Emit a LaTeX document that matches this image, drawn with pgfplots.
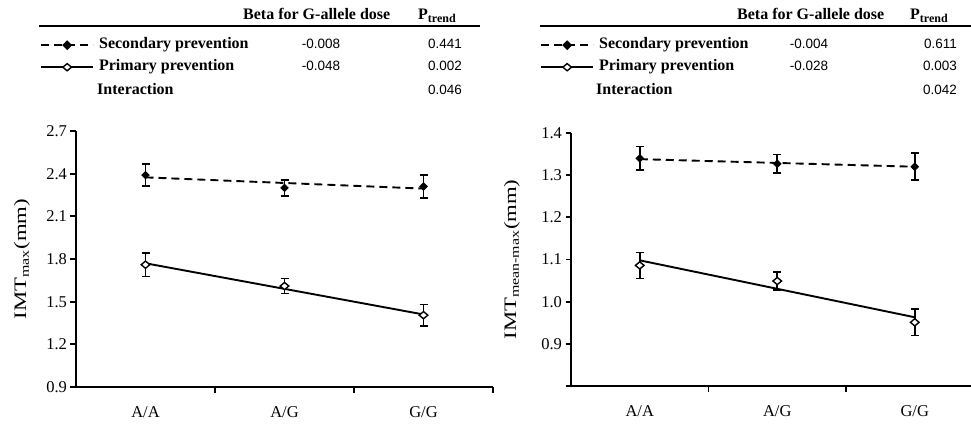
\documentclass[border=0pt]{standalone}
\usepackage{fontspec}
\usepackage{graphicx}
\usepackage{pgfplots}
\pgfplotsset{compat=1.18}
\setmainfont{Liberation Serif}
\newfontfamily\numfont{Liberation Sans}
\newcommand{\hdfont}{\fontsize{16}{18}\selectfont\bfseries}
\newcommand{\nmfont}{\fontsize{13.5}{16}\selectfont\numfont}
\pgfplotsset{
  myaxis/.style={
    scale only axis,
    axis x line=bottom, axis y line=left,
    axis line style={-, line width=2.1pt},
    xmin=-0.5,
    xtick={0.5,1.5,2.5}, xticklabels={},
    extra x ticks={0,1,2}, extra x tick labels={A/A,A/G,G/G},
    extra x tick style={major tick length=0pt, xticklabel style={yshift=-16pt}},
    tick align=outside,
    major tick length=5.5pt,
    every tick/.style={black, line width=1.9pt},
    tick label style={font=\fontsize{16.5}{18}\selectfont},
    /pgf/number format/assume math mode=true,
    /pgf/number format/fixed, /pgf/number format/fixed zerofill, /pgf/number format/precision=1,
    clip=false,
    legend cell align=left,
    legend image code/.code={\draw[mark repeat=2,mark phase=2,##1] plot coordinates {(0pt,0pt) (26pt,0pt) (52pt,0pt)};},
    ylabel style={anchor=center, font=\fontsize{17.5}{20}\selectfont},
  },
  secline/.style={black, line width=1.9pt, dash pattern=on 8pt off 5pt},
  primline/.style={black, line width=1.9pt},
  errstyle/.style={
    error bars/y dir=both, error bars/y explicit,
    error bars/error bar style={line width=1.6pt, black, solid},
    error bars/error mark options={rotate=90, mark size=4pt, line width=1.6pt, black}},
  secmark/.style={only marks, mark=diamond*, mark size=3.6pt, mark options={solid, xscale=1.33, fill=black, draw=black, line width=1pt}, errstyle},
  primmark/.style={only marks, mark=diamond*, mark size=3.6pt, mark options={solid, xscale=1.6, fill=white, draw=black, line width=1.4pt}, errstyle},
}
\begin{document}
\begin{tikzpicture}[x=1pt,y=1pt]
\useasboundingbox (0,0) rectangle (971,424);
% ---------- left panel ----------
\begin{axis}[myaxis,
  at={(76pt,37pt)}, anchor=south west,
  width=417pt, height=256pt,
  xmax=2.5,
  ymin=0.9, ymax=2.7, ytick={0.9,1.2,1.5,1.8,2.1,2.4,2.7},
  ylabel={\scalebox{1.3}[1]{IMT\textsubscript{max}(mm)}},
  ylabel style={at={(axis description cs:-0.1295,0.5)}},
  legend style={draw=none, fill=none, at={(axis description cs:-0.0863,1.3652)}, anchor=north west,
    inner sep=0pt, row sep=7pt, font=\hdfont,
    nodes={inner sep=0pt, text height=11pt, text depth=4pt},
    /tikz/every odd column/.append style={column sep=5pt}},
]
\addlegendimage{secline, mark=diamond*, mark size=3.6pt, mark options={solid, xscale=1.33, fill=black}}
\addlegendentry{Secondary prevention}
\addlegendimage{primline, mark=diamond*, mark size=3.6pt, mark options={solid, xscale=1.6, fill=white, line width=1.4pt}}
\addlegendentry{Primary prevention}
\addplot[forget plot, secline] coordinates {(0,2.374) (2,2.295)};
\addplot[forget plot, primline] coordinates {(0,1.77) (2,1.41)};
\addplot[forget plot, secmark] coordinates {(0,2.39) +- (0,0.078) (1,2.30) +- (0,0.055) (2,2.31) +- (0,0.082)};
\addplot[forget plot, primmark] coordinates {(0,1.76) +- (0,0.083) (1,1.61) +- (0,0.052) (2,1.405) +- (0,0.075)};
\end{axis}
% ---------- right panel ----------
\begin{axis}[myaxis,
  at={(571pt,38pt)}, anchor=south west,
  width=400pt, height=253pt,
  xmax=2.409,
  ymin=0.8, ymax=1.4, ytick={0.8,0.9,1.0,1.1,1.2,1.3,1.4},
  yticklabels={,0.9,1.0,1.1,1.2,1.3,1.4},
  ylabel={\scalebox{1.3}[1]{IMT\textsubscript{mean-max}(mm)}},
  ylabel style={at={(axis description cs:-0.1475,0.5)}},
  legend style={draw=none, fill=none, at={(axis description cs:-0.0775,1.3775)}, anchor=north west,
    inner sep=0pt, row sep=7pt, font=\hdfont,
    nodes={inner sep=0pt, text height=11pt, text depth=4pt},
    /tikz/every odd column/.append style={column sep=5pt}},
]
\addlegendimage{secline, mark=diamond*, mark size=3.6pt, mark options={solid, xscale=1.33, fill=black}}
\addlegendentry{Secondary prevention}
\addlegendimage{primline, mark=diamond*, mark size=3.6pt, mark options={solid, xscale=1.6, fill=white, line width=1.4pt}}
\addlegendentry{Primary prevention}
\addplot[forget plot, secline] coordinates {(0,1.338) (2,1.320)};
\addplot[forget plot, primline] coordinates {(0,1.098) (2,0.963)};
\addplot[forget plot, secmark] coordinates {(0,1.340) +- (0,0.028) (1,1.327) +- (0,0.022) (2,1.320) +- (0,0.032)};
\addplot[forget plot, primmark] coordinates {(0,1.086) +- (0,0.031) (1,1.049) +- (0,0.021) (2,0.951) +- (0,0.031)};
\end{axis}
% ---------- tables (left) ----------
\node[anchor=base west, inner sep=0pt, font=\hdfont] at (243,404) {Beta for G-allele dose};
\node[anchor=base west, inner sep=0pt, font=\hdfont] at (418,404) {P\textsubscript{\fontsize{12}{12}\selectfont trend}};
\draw[line width=1.4pt] (39,398) -- (480,398);
\node[anchor=base west, inner sep=0pt, font=\hdfont] at (97,329.7) {Interaction};
\node[anchor=base, inner sep=0pt, font=\nmfont] at (321,375.7) {-0.008};
\node[anchor=base, inner sep=0pt, font=\nmfont] at (321,353) {-0.048};
\node[anchor=base east, inner sep=0pt, font=\nmfont] at (462,375.7) {0.441};
\node[anchor=base east, inner sep=0pt, font=\nmfont] at (462,353) {0.002};
\node[anchor=base east, inner sep=0pt, font=\nmfont] at (462,329.7) {0.046};
% ---------- tables (right) ----------
\node[anchor=base west, inner sep=0pt, font=\hdfont] at (737,404) {Beta for G-allele dose};
\node[anchor=base west, inner sep=0pt, font=\hdfont] at (910,404) {P\textsubscript{\fontsize{12}{12}\selectfont trend}};
\draw[line width=1.4pt] (540,398) -- (971,398);
\node[anchor=base west, inner sep=0pt, font=\hdfont] at (596,329.7) {Interaction};
\node[anchor=base, inner sep=0pt, font=\nmfont] at (809,375.7) {-0.004};
\node[anchor=base, inner sep=0pt, font=\nmfont] at (809,353) {-0.028};
\node[anchor=base east, inner sep=0pt, font=\nmfont] at (957,375.7) {0.611};
\node[anchor=base east, inner sep=0pt, font=\nmfont] at (957,353) {0.003};
\node[anchor=base east, inner sep=0pt, font=\nmfont] at (957,329.7) {0.042};
\end{tikzpicture}
\end{document}
